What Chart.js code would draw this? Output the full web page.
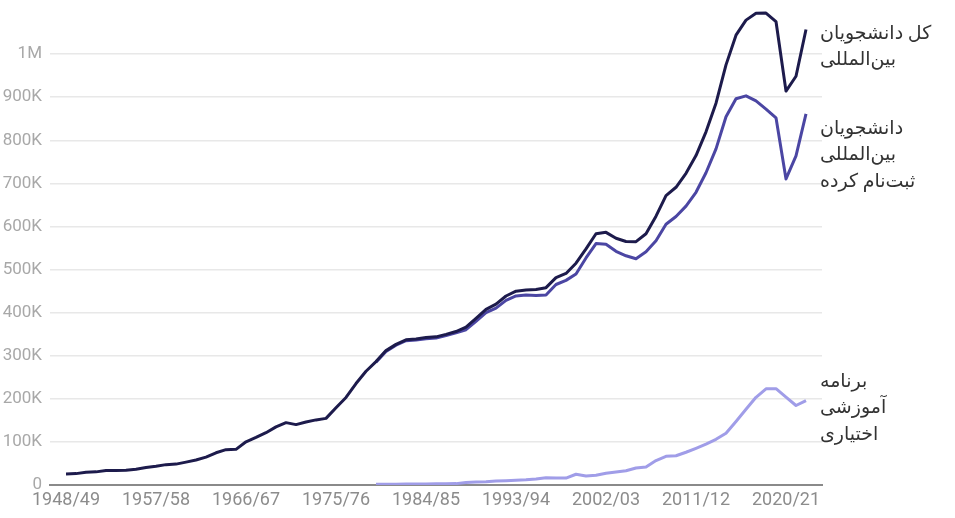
<!DOCTYPE html>
<html>
<head>
<meta charset="utf-8">
<style>
  html, body { margin: 0; padding: 0; background: #fff; }
  canvas { display: block; }
</style>
<script src="https://cdn.jsdelivr.net/npm/chart.js@4.4.0/dist/chart.umd.min.js"></script>
</head>
<body>
<canvas id="chart" width="955" height="518"></canvas>
<script>
// academic years, one per point
const years = [
  '1948/49','1949/50','1950/51','1951/52','1952/53','1953/54','1954/55','1955/56','1956/57','1957/58',
  '1958/59','1959/60','1960/61','1961/62','1962/63','1963/64','1964/65','1965/66','1966/67','1967/68',
  '1968/69','1969/70','1970/71','1971/72','1972/73','1973/74','1974/75','1975/76','1976/77','1977/78',
  '1978/79','1979/80','1980/81','1981/82','1982/83','1983/84','1984/85','1985/86','1986/87','1987/88',
  '1988/89','1989/90','1990/91','1991/92','1992/93','1993/94','1994/95','1995/96','1996/97','1997/98',
  '1998/99','1999/00','2000/01','2001/02','2002/03','2003/04','2004/05','2005/06','2006/07','2007/08',
  '2008/09','2009/10','2010/11','2011/12','2012/13','2013/14','2014/15','2015/16','2016/17','2017/18',
  '2018/19','2019/20','2020/21','2021/22','2022/23'
];

const xTickLabels = ['1948/49','1957/58','1966/67','1975/76','1984/85','1993/94','2002/03','2011/12','2020/21'];

const totalStudents = [
  25464, 26433, 29813, 30462, 33675, 33833, 34232, 36494, 40666, 43391,
  47245, 48486, 53107, 58086, 64705, 74814, 82045, 82709, 100262, 110315,
  121362, 134959, 144708, 140126, 146097, 151066, 154580, 179344, 203068, 235509,
  263938, 286343, 311882, 326299, 336985, 338894, 342113, 343777, 349609, 356187,
  366354, 386851, 407529, 419585, 438618, 449749, 452653, 453787, 457984, 481280,
  490933, 514723, 547867, 582996, 586323, 572509, 565039, 564766, 582984, 623805,
  671616, 690923, 723277, 764495, 819644, 886052, 974926, 1043839, 1078822, 1094792,
  1095299, 1075496, 914095, 948519, 1057188
];

const enrolledStudents = [
  null, null, null, null, null, null, null, null, null, null,
  null, null, null, null, null, null, null, null, null, null,
  null, null, null, null, null, null, null, null, null, null,
  null, 284800, 310100, 324300, 334800, 336500, 339500, 341000, 346600, 353000,
  360400, 379900, 400000, 410600, 428600, 438700, 440700, 439800, 441000, 465300,
  474900, 489700, 526900, 560200, 558900, 542400, 532000, 525200, 541300, 567000,
  605000, 623100, 647200, 679300, 724700, 780100, 854600, 896300, 903100, 891300,
  872200, 852000, 710200, 764000, 861200
];

const optStudents = [
  null, null, null, null, null, null, null, null, null, null,
  null, null, null, null, null, null, null, null, null, null,
  null, null, null, null, null, null, null, null, null, null,
  null, 1500, 1800, 2000, 2200, 2400, 2600, 2800, 3000, 3200,
  6000, 7000, 7500, 9000, 10000, 11000, 12000, 14000, 17000, 16000,
  16000, 25000, 21000, 22800, 27400, 30100, 33000, 39500, 41700, 56800,
  66600, 67800, 76000, 85200, 94900, 106000, 120300, 147500, 175700, 203500,
  223100, 223500, 203900, 184500, 196000
];

const seriesLabels = [
  ['کل دانشجویان', 'بین‌المللی'],
  ['دانشجویان', 'بین‌المللی', 'ثبت‌نام کرده'],
  ['برنامه', 'آموزشی', 'اختیاری']
];

const toPoints = arr => arr.map((v, i) => ({ x: i, y: v }));
const xTickIdx = xTickLabels.map(l => years.indexOf(l));

const fontFamily = 'Roboto, "DejaVu Sans", sans-serif';

// persian labels to the right of the lines
const sideLabels = {
  id: 'sideLabels',
  afterDraw(chart) {
    const ctx = chart.ctx;
    const tops = [34, 129, 382];
    ctx.save();
    ctx.font = '19px ' + fontFamily;
    ctx.fillStyle = '#333333';
    ctx.textBaseline = 'middle';
    ctx.direction = 'rtl';
    ctx.textAlign = 'left';
    seriesLabels.forEach((lines, i) => {
      lines.forEach((line, j) => {
        ctx.fillText(line, 820, tops[i] + j * 26.5);
      });
    });
    ctx.restore();
  }
};

new Chart(document.getElementById('chart').getContext('2d'), {
  type: 'line',
  data: {
    datasets: [
      { data: toPoints(totalStudents), borderColor: '#1d1b4c', borderWidth: 3 },
      { data: toPoints(enrolledStudents), borderColor: '#4b46a3', borderWidth: 3 },
      { data: toPoints(optStudents), borderColor: '#a09de8', borderWidth: 3 }
    ]
  },
  options: {
    responsive: false,
    animation: false,
    layout: { padding: { top: 11, right: 133, left: 0, bottom: 0 } },
    elements: {
      point: { radius: 0 },
      line: { tension: 0, borderJoinStyle: 'round', borderCapStyle: 'butt' }
    },
    plugins: {
      legend: { display: false },
      tooltip: { enabled: false }
    },
    scales: {
      x: {
        type: 'linear',
        min: -1.6,
        max: 75.6,
        afterBuildTicks: scale => { scale.ticks = xTickIdx.map(v => ({ value: v })); },
        afterFit: scale => {
          scale.height = 33;
          scale.paddingLeft = 0;
          scale.paddingRight = 0;
        },
        grid: { display: false, drawTicks: false },
        border: { display: true, color: '#8a8a8a', width: 2 },
        ticks: {
          autoSkip: false,
          maxRotation: 0,
          padding: 5,
          color: '#8c8c8c',
          font: { family: fontFamily, size: 18 },
          callback: v => years[v]
        }
      },
      y: {
        min: 0,
        max: 1100000,
        afterBuildTicks: scale => {
          scale.ticks = scale.ticks.filter(t => t.value <= 1000000);
        },
        afterFit: scale => {
          scale.width = 50;
          scale.paddingTop = 0;
          scale.paddingBottom = 0;
        },
        grid: {
          drawTicks: false,
          color: ctx => ctx.tick && ctx.tick.value === 0 ? '#8a8a8a' : '#e8e8e8',
          lineWidth: ctx => ctx.tick && ctx.tick.value === 0 ? 2 : 1.5
        },
        border: { display: false },
        ticks: {
          stepSize: 100000,
          padding: 8,
          color: '#a8a8a8',
          font: { family: fontFamily, size: 17 },
          callback: v => v === 0 ? '0' : (v >= 1000000 ? (v / 1000000) + 'M' : (v / 1000) + 'K')
        }
      }
    }
  },
  plugins: [sideLabels]
});
</script>
</body>
</html>
